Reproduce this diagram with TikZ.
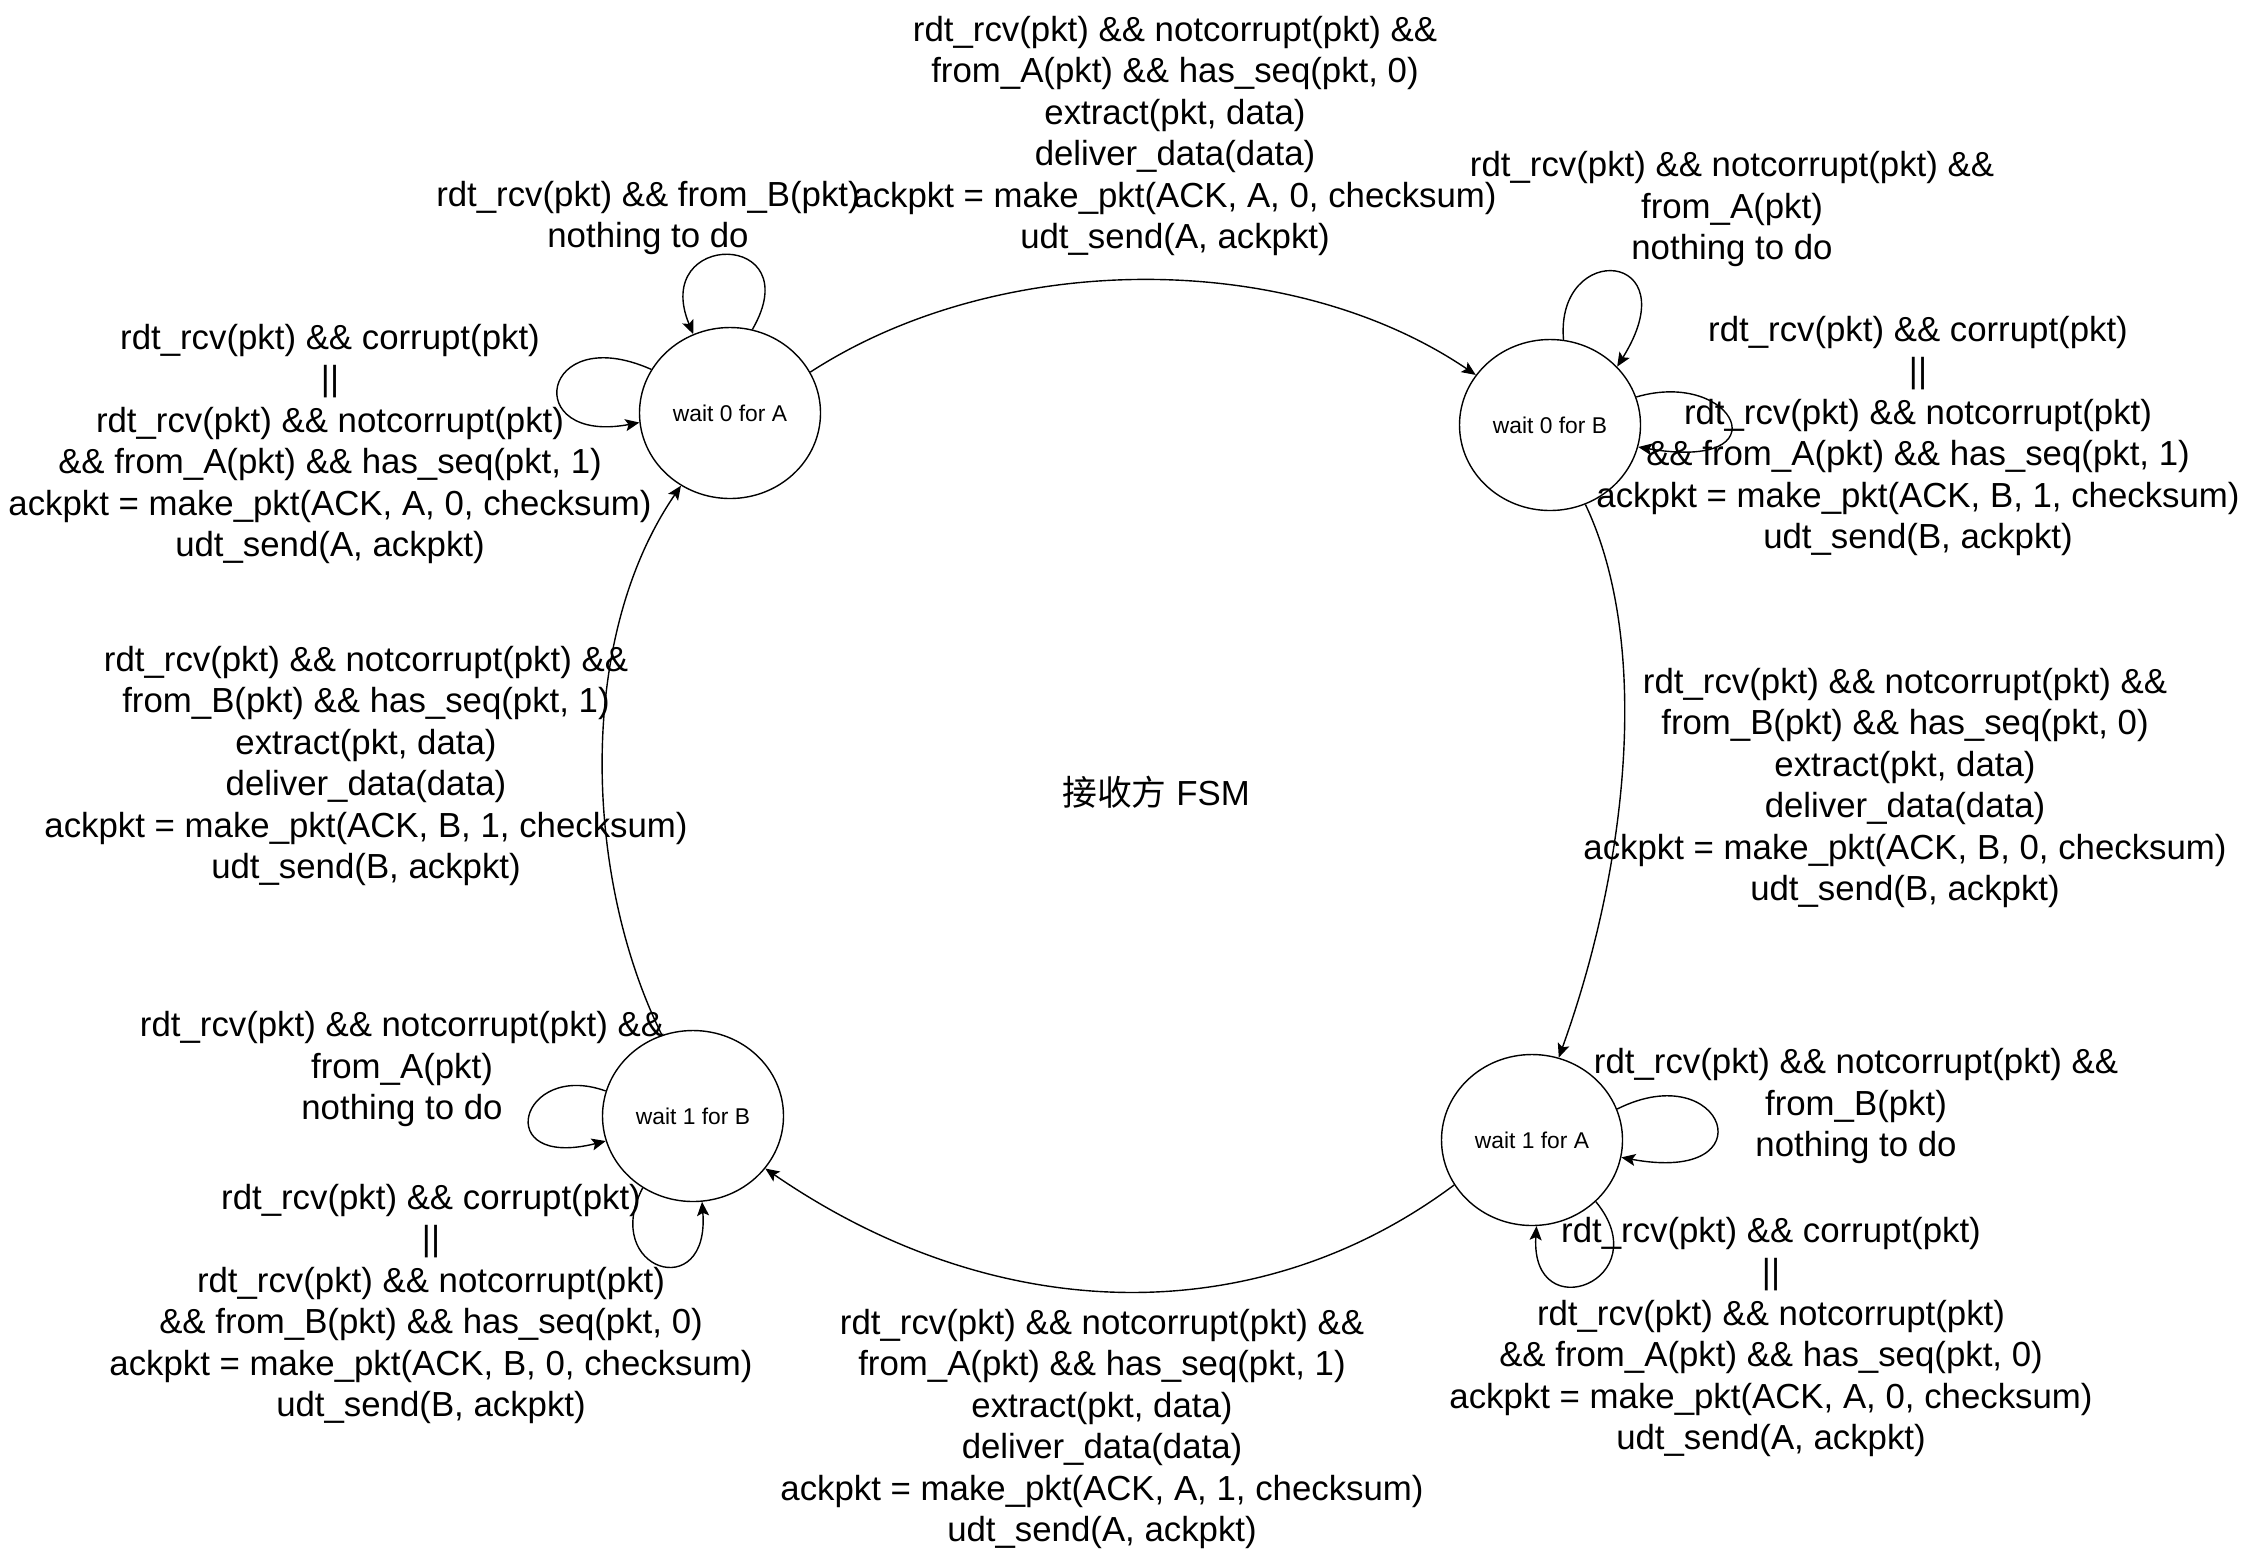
\documentclass[tikz,border=0pt]{standalone}
\usepackage{fontspec}
\setmainfont{Liberation Sans}
\newfontfamily\cjkfont{Noto Sans CJK SC}
\usetikzlibrary{arrows.meta,shapes.geometric}
\tikzset{
  fsmstate/.style={
    ellipse,
    draw=black,
    line width=.7pt,
    minimum width=90.5pt,
    minimum height=85.5pt,
    inner sep=0pt,
    font=\fontsize{11.4}{13.7}\selectfont
  },
  cond/.style={
    align=center,
    inner sep=0pt,
    font=\fontsize{17.4}{20.7}\selectfont
  },
  trans/.style={-{Stealth[length=7pt,width=6pt,inset=1.5pt]},draw=black,line width=.7pt}
}

\begin{document}
\begin{tikzpicture}[x=0.5pt,y=-0.5pt]
  \useasboundingbox (0,0) rectangle (2248,1555);

  \node[fsmstate] (a0) at (730,413) {wait 0 for A};
  \node[fsmstate] (b0) at (1550,425) {wait 0 for B};
  \node[fsmstate] (a1) at (1532,1140) {wait 1 for A};
  \node[fsmstate] (b1) at (693,1116) {wait 1 for B};
  \node[cond] (fsm) at (1156,792) {{\cjkfont 接收方} FSM};

  \draw[trans] (a0.27) .. controls (1000,249) and (1290,249) .. (b0.146);
  \draw[trans] (b0.294) .. controls (1650,640) and (1630,860) .. (a1.72);
  \draw[trans] (a1.210) .. controls (1260,1330) and (1000,1330) .. (b1.324);
  \draw[trans] (b1.111) .. controls (585,880) and (575,640) .. (a0.236);

  \draw[trans] (a0.75) .. controls (810,230) and (650,230) .. (a0.115);
  \draw[trans] (a0.151) .. controls (540,320) and (520,445) .. (a0.186);
  \draw[trans] (b0.81) .. controls (1555,240) and (1690,250) .. (b0.41);
  \draw[trans] (b0.18) .. controls (1735,368) and (1785,472) .. (b0.346);
  \draw[trans] (a1.20) .. controls (1725,1055) and (1770,1185) .. (a1.349);
  \draw[trans] (a1.316) .. controls (1660,1280) and (1530,1330) .. (a1.273);
  \draw[trans] (b1.164) .. controls (520,1060) and (490,1170) .. (b1.196);
  \draw[trans] (b1.235) .. controls (600,1270) and (710,1305) .. (b1.276);

  \node[cond] (t0ab) at (1175,136)
    {rdt\_rcv(pkt) \&\& notcorrupt(pkt) \&\&\\from\_A(pkt) \&\& has\_seq(pkt, 0)\\extract(pkt, data)\\deliver\_data(data)\\ackpkt = make\_pkt(ACK, A, 0, checksum)\\udt\_send(A, ackpkt)};
  \node[cond] (t0ba) at (1905,788)
    {rdt\_rcv(pkt) \&\& notcorrupt(pkt) \&\&\\from\_B(pkt) \&\& has\_seq(pkt, 0)\\extract(pkt, data)\\deliver\_data(data)\\ackpkt = make\_pkt(ACK, B, 0, checksum)\\udt\_send(B, ackpkt)};
  \node[cond] (t1ab) at (1102,1429)
    {rdt\_rcv(pkt) \&\& notcorrupt(pkt) \&\&\\from\_A(pkt) \&\& has\_seq(pkt, 1)\\extract(pkt, data)\\deliver\_data(data)\\ackpkt = make\_pkt(ACK, A, 1, checksum)\\udt\_send(A, ackpkt)};
  \node[cond] (t1ba) at (366,766)
    {rdt\_rcv(pkt) \&\& notcorrupt(pkt) \&\&\\from\_B(pkt) \&\& has\_seq(pkt, 1)\\extract(pkt, data)\\deliver\_data(data)\\ackpkt = make\_pkt(ACK, B, 1, checksum)\\udt\_send(B, ackpkt)};

  \node[cond] (sa0top) at (648,218)
    {rdt\_rcv(pkt) \&\& from\_B(pkt)\\nothing to do};
  \node[cond] (sa0left) at (330,444)
    {rdt\_rcv(pkt) \&\& corrupt(pkt)\\||\\rdt\_rcv(pkt) \&\& notcorrupt(pkt)\\\&\& from\_A(pkt) \&\& has\_seq(pkt, 1)\\ackpkt = make\_pkt(ACK, A, 0, checksum)\\udt\_send(A, ackpkt)};
  \node[cond] (sb0top) at (1732,209)
    {rdt\_rcv(pkt) \&\& notcorrupt(pkt) \&\&\\from\_A(pkt)\\nothing to do};
  \node[cond] (sb0right) at (1918,436)
    {rdt\_rcv(pkt) \&\& corrupt(pkt)\\||\\rdt\_rcv(pkt) \&\& notcorrupt(pkt)\\\&\& from\_A(pkt) \&\& has\_seq(pkt, 1)\\ackpkt = make\_pkt(ACK, B, 1, checksum)\\udt\_send(B, ackpkt)};
  \node[cond] (sa1right) at (1856,1106)
    {rdt\_rcv(pkt) \&\& notcorrupt(pkt) \&\&\\from\_B(pkt)\\nothing to do};
  \node[cond] (sa1bottom) at (1771,1337)
    {rdt\_rcv(pkt) \&\& corrupt(pkt)\\||\\rdt\_rcv(pkt) \&\& notcorrupt(pkt)\\\&\& from\_A(pkt) \&\& has\_seq(pkt, 0)\\ackpkt = make\_pkt(ACK, A, 0, checksum)\\udt\_send(A, ackpkt)};
  \node[cond] (sb1left) at (402,1069)
    {rdt\_rcv(pkt) \&\& notcorrupt(pkt) \&\&\\from\_A(pkt)\\nothing to do};
  \node[cond] (sb1bottom) at (431,1304)
    {rdt\_rcv(pkt) \&\& corrupt(pkt)\\||\\rdt\_rcv(pkt) \&\& notcorrupt(pkt)\\\&\& from\_B(pkt) \&\& has\_seq(pkt, 0)\\ackpkt = make\_pkt(ACK, B, 0, checksum)\\udt\_send(B, ackpkt)};
\end{tikzpicture}
\end{document}
